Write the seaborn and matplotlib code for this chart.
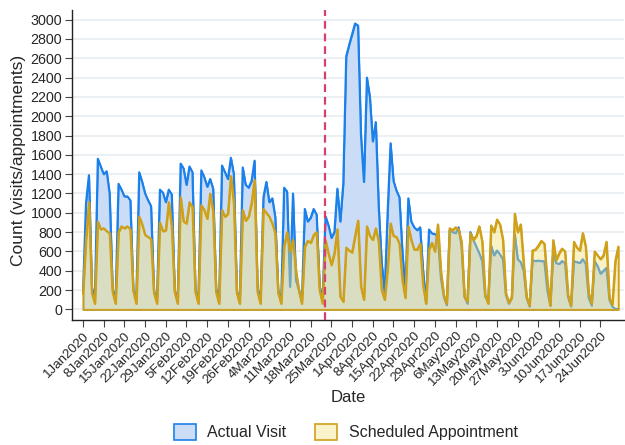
import numpy as np
import pandas as pd
import seaborn as sns
import matplotlib.pyplot as plt
from matplotlib.patches import Patch

# daily counts, 1 Jan 2020 .. 30 Jun 2020 (182 days)
dates = pd.date_range("2020-01-01", periods=182, freq="D")

actualVisit = [
    180, 1100, 1390, 230, 90,
    1560, 1480, 1400, 1430, 1200, 220, 80,
    1300, 1240, 1170, 1170, 1130, 210, 90,
    1420, 1320, 1200, 1130, 1070, 190, 90,
    1240, 1210, 1110, 1240, 1190, 200, 80,
    1510, 1460, 1290, 1480, 1420, 210, 80,
    1440, 1370, 1270, 1350, 1250, 220, 80,
    1490, 1420, 1350, 1570, 1400, 200, 70,
    1470, 1290, 1260, 1330, 1540, 230, 80,
    1160, 1320, 1110, 1150, 960, 200, 80,
    1260, 1220, 234, 1200, 300, 200, 80,
    1040, 910, 950, 1040, 980, 250, 90,
    965, 870, 740, 800, 1250, 910, 1300,
    2620, 2740, 2850, 2960, 2940, 1800, 1320,
    2400, 2200, 1740, 1940, 1060, 480, 180,
    1000, 1720, 1330, 1230, 1160, 600, 180,
    1150, 910, 850, 820, 850, 400, 62,
    827, 786, 780, 750, 330, 130, 44,
    820, 800, 790, 850, 650, 130, 60,
    800, 720, 650, 580, 500, 130, 80,
    660, 560, 610, 570, 520, 150, 60,
    120, 780, 520, 490, 400, 120, 30,
    510, 500, 505, 500, 500, 200, 40,
    580, 480, 470, 500, 480, 130, 30,
    500, 490, 480, 520, 470, 120, 40,
    500, 450, 370, 400, 430, 100, 30,
    5, 5,
]

scheduledAppt = [
    160, 720, 1110, 170, 60,
    910, 830, 840, 810, 790, 180, 60,
    800, 860, 840, 860, 830, 190, 60,
    960, 880, 770, 750, 730, 170, 60,
    900, 810, 820, 1110, 860, 180, 60,
    1160, 910, 890, 1110, 1060, 180, 60,
    1080, 1030, 940, 1200, 1010, 180, 60,
    1030, 960, 990, 1380, 1100, 170, 60,
    1030, 920, 960, 1100, 1340, 180, 60,
    1040, 1000, 960, 890, 790, 170, 60,
    650, 800, 600, 720, 400, 200, 60,
    650, 710, 690, 770, 800, 200, 60,
    717, 580, 460, 580, 830, 130, 80,
    640, 610, 590, 760, 920, 234, 100,
    860, 760, 720, 840, 700, 200, 100,
    420, 890, 760, 750, 680, 300, 120,
    860, 720, 620, 620, 680, 250, 60,
    620, 690, 600, 880, 400, 150, 60,
    840, 820, 850, 830, 700, 130, 80,
    790, 720, 760, 860, 700, 150, 60,
    870, 800, 930, 880, 720, 170, 70,
    130, 990, 800, 880, 480, 130, 40,
    610, 620, 660, 710, 680, 300, 40,
    717, 510, 580, 630, 600, 150, 40,
    700, 640, 610, 790, 650, 170, 60,
    600, 560, 520, 560, 700, 120, 50,
    500, 650,
]

tickDates = pd.date_range("2020-01-01", "2020-06-24", freq="7D")
tickLabels = [f"{d.day}{d.strftime('%b%Y')}" for d in tickDates]
lockdownDate = pd.Timestamp("2020-03-23")

df = pd.DataFrame({"Date": dates, "Actual": actualVisit, "Scheduled": scheduledAppt})

blueLine = "#1c80ea"
blueFill = "#cadcf6"
goldLine = "#cfa01a"
goldFill = (0.95, 0.88, 0.46, 0.40)

sns.set_theme(style="white")
plt.rcParams["font.family"] = ["Liberation Sans", "DejaVu Sans"]

fig = plt.figure(figsize=(6.25, 4.45), dpi=100)
ax = fig.add_axes([72 / 625, 1 - 320 / 445, 552 / 625, 310 / 445])

# blue area + line, then the semi-transparent gold area on top
ax.fill_between(df["Date"], 0, df["Actual"], facecolor=blueFill, edgecolor=blueLine, lw=1.0, zorder=2)
sns.lineplot(data=df, x="Date", y="Actual", color=blueLine, lw=1.5, ax=ax, zorder=3)
ax.fill_between(df["Date"], 0, df["Scheduled"], facecolor=goldFill, edgecolor=goldLine, lw=1.4, zorder=4)
sns.lineplot(data=df, x="Date", y="Scheduled", color=goldLine, lw=1.5, ax=ax, zorder=5)

ax.axvline(lockdownDate, color="#d6406e", ls=(0, (3.5, 2.2)), lw=1.6, zorder=6)

ax.set_xlim(dates[0] - pd.Timedelta(days=3.72), dates[0] + pd.Timedelta(days=182.95))
ax.set_ylim(-110, 3100)
ax.set_yticks(range(0, 3001, 200))
ax.set_xticks(tickDates)
ax.set_xticklabels(tickLabels, rotation=45, ha="right", rotation_mode="anchor")

ax.yaxis.grid(True, color="#e6edf1", lw=1.2)
ax.xaxis.grid(False)
ax.set_axisbelow(True)
for side in ["top", "right"]:
    ax.spines[side].set_visible(False)
for side in ["left", "bottom"]:
    ax.spines[side].set_color("#222222")
    ax.spines[side].set_linewidth(1.0)
ax.tick_params(axis="both", direction="out", length=5, width=0.8, color="#444444",
               left=True, bottom=True, pad=2)
ax.tick_params(axis="y", labelsize=10.3)
ax.tick_params(axis="x", labelsize=9.6)

ax.set_xlabel("Date", fontsize=12)
ax.set_ylabel("Count (visits/appointments)", fontsize=12.5)
ax.xaxis.set_label_coords(0.5, -0.225)
ax.yaxis.set_label_coords(-0.083, 0.515)

handles = [
    Patch(facecolor=blueFill, edgecolor=blueLine, lw=1.2, label="Actual Visit"),
    Patch(facecolor="#faf2c8", edgecolor=goldLine, lw=1.2, label="Scheduled Appointment"),
]
fig.legend(handles=handles, loc="center", bbox_to_anchor=(0.553, 1 - 432 / 445), ncol=2,
           frameon=False, fontsize=11.5, handlelength=1.4, handleheight=1.15,
           handletextpad=0.7, columnspacing=1.8)

fig.savefig("out.png", dpi=100)
